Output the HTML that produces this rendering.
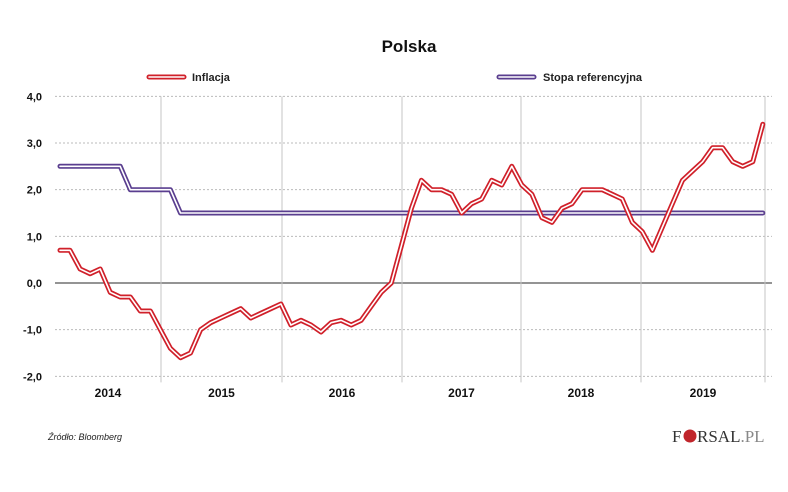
<!DOCTYPE html>
<html><head><meta charset="utf-8"><style>
body{margin:0;background:#fff;width:788px;height:487px;overflow:hidden;font-family:"Liberation Sans",sans-serif}
</style></head><body>
<svg id="c" width="788" height="487" xmlns="http://www.w3.org/2000/svg">
<text x="409" y="52" text-anchor="middle" font-size="17" font-weight="bold" fill="#111">Polska</text>
<g>
<g>
<line x1="149" y1="77" x2="184" y2="77" stroke="#d0202a" stroke-width="5" stroke-linecap="round"/>
<line x1="149" y1="77" x2="184" y2="77" stroke="#fff" stroke-width="1.6" stroke-linecap="round"/>
<text x="192" y="81" font-size="11" font-weight="bold" fill="#222">Inflacja</text></g>
<g>
<line x1="499" y1="77" x2="534" y2="77" stroke="#5a3e8f" stroke-width="5" stroke-linecap="round"/>
<line x1="499" y1="77" x2="534" y2="77" stroke="#fff" stroke-width="1.6" stroke-linecap="round"/>
<text x="543" y="81" font-size="11" font-weight="bold" fill="#222">Stopa referencyjna</text></g>
</g>
<g id="grid"></g>
<g id="axes"></g>
<g id="series"></g>
<text x="48" y="440" font-size="9" font-style="italic" fill="#222">Źródło: Bloomberg</text>
<g>
<text x="672" y="442" font-family="Liberation Serif,serif" font-size="17" fill="#333">F</text>
<circle cx="690" cy="436" r="6.5" fill="#c0252b"/>
<text x="697" y="442" font-family="Liberation Serif,serif" font-size="17" fill="#333">RSAL<tspan fill="#888">.PL</tspan></text>
</g>
</svg>
<script>
const yTicks=[4,3,2,1,0,-1,-2];
const yTickLabels=["4,0","3,0","2,0","1,0","0,0","-1,0","-2,0"];
const years=["2014","2015","2016","2017","2018","2019"];
const inflation=[0.7,0.7,0.3,0.2,0.3,-0.2,-0.3,-0.3,-0.6,-0.6,-1.0,-1.4,-1.6,-1.5,-1.0,-0.85,-0.75,-0.65,-0.55,-0.75,-0.65,-0.55,-0.45,-0.9,-0.8,-0.9,-1.05,-0.85,-0.8,-0.9,-0.8,-0.5,-0.2,0.0,0.8,1.6,2.2,2.0,2.0,1.9,1.5,1.7,1.8,2.2,2.1,2.5,2.1,1.9,1.4,1.3,1.6,1.7,2.0,2.0,2.0,1.9,1.8,1.3,1.1,0.7,1.2,1.7,2.2,2.4,2.6,2.9,2.9,2.6,2.5,2.6,3.4];
const refRate=[2.5,2.5,2.5,2.5,2.5,2.5,2.5,2.0,2.0,2.0,2.0,2.0,1.5,1.5,1.5,1.5,1.5,1.5,1.5,1.5,1.5,1.5,1.5,1.5,1.5,1.5,1.5,1.5,1.5,1.5,1.5,1.5,1.5,1.5,1.5,1.5,1.5,1.5,1.5,1.5,1.5,1.5,1.5,1.5,1.5,1.5,1.5,1.5,1.5,1.5,1.5,1.5,1.5,1.5,1.5,1.5,1.5,1.5,1.5,1.5,1.5,1.5,1.5,1.5,1.5,1.5,1.5,1.5,1.5,1.5,1.5];
const NS="http://www.w3.org/2000/svg";
const L=55,R=772,Y0=283,PU=46.67;
const y=v=>Y0-v*PU;
const x=i=>60+i*10.04;
const yb=[161,282,402,521,641,765];
function mk(t,a,p){const e=document.createElementNS(NS,t);for(const k in a)e.setAttribute(k,a[k]);p.appendChild(e);return e;}
const grid=document.getElementById('grid'),axes=document.getElementById('axes'),ser=document.getElementById('series');
yTicks.forEach((v,k)=>{
  const ln=mk('line',{x1:L,x2:R,y1:y(v),y2:y(v),stroke:v===0?'#555':'#bbb','stroke-width':v===0?1.2:1,'stroke-dasharray':v===0?'':'2,2'},grid);
  
  
  const t=mk('text',{x:42,y:y(v)+4,'text-anchor':'end','font-size':11,'font-weight':'bold',fill:'#111'},axes);
  t.textContent=yTickLabels[k];
  
  
});
yb.forEach(b=>{
  const ln=mk('line',{x1:b,x2:b,y1:y(4),y2:y(-2)+6,stroke:'#c4c4c4','stroke-width':1},grid);
  
  
});
years.forEach((yr,k)=>{
  const a=k===0?L:yb[k-1],b=yb[k];
  const t=mk('text',{x:(a+b)/2+(k===0?0:0),y:397,'text-anchor':'middle','font-size':12,'font-weight':'bold',fill:'#111'},axes);
  t.textContent=yr;
  
  
});
function draw(data,col,name){
  const d=data.map((v,i)=>(i?'L':'M')+x(i).toFixed(1)+','+y(v).toFixed(1)).join(' ');
  const g=mk('g',{},ser);
  
  
  mk('path',{d:d,fill:'none',stroke:col,'stroke-width':5,'stroke-linejoin':'round','stroke-linecap':'round'},g);
  mk('path',{d:d,fill:'none',stroke:'#fff','stroke-width':1.6,'stroke-linejoin':'round','stroke-linecap':'round'},g);
}
draw(refRate,'#5a3e8f','reference-rate-line');
draw(inflation,'#d0202a','inflation-line');
</script>
</body></html>
